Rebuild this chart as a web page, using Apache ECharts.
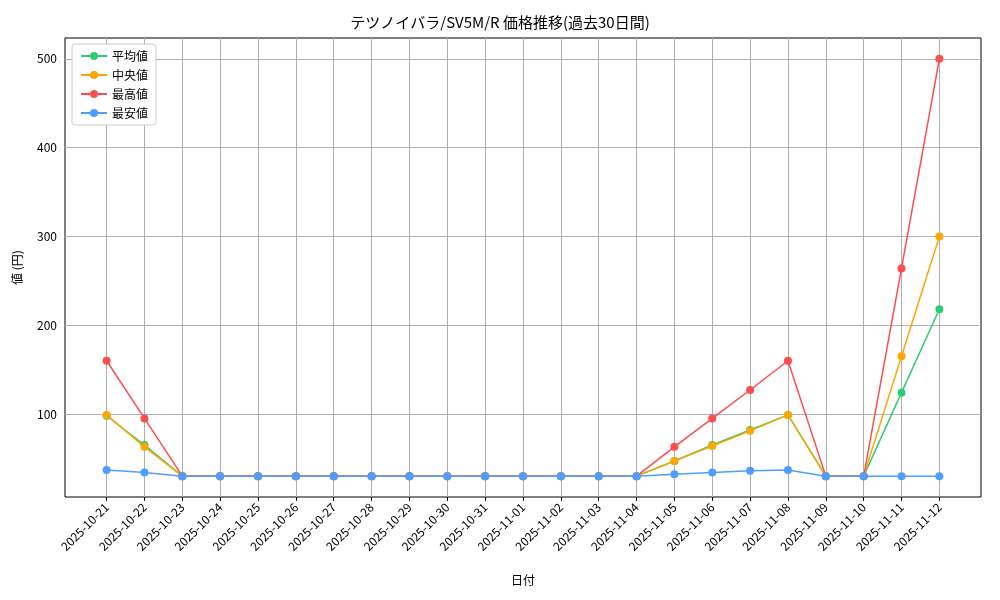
<!DOCTYPE html>
<html><head><meta charset="utf-8">
<script src="https://cdn.jsdelivr.net/npm/echarts@6/dist/echarts.min.js"></script>
<style>html,body{margin:0;padding:0;background:#fff}#c{width:1000px;height:600px}</style>
</head><body><div id="c"></div>
<script>
const dates = ["2025-10-21","2025-10-22","2025-10-23","2025-10-24","2025-10-25","2025-10-26","2025-10-27","2025-10-28","2025-10-29","2025-10-30","2025-10-31","2025-11-01","2025-11-02","2025-11-03","2025-11-04","2025-11-05","2025-11-06","2025-11-07","2025-11-08","2025-11-09","2025-11-10","2025-11-11","2025-11-12"];
const meanVals   = [98,65,30,30,30,30,30,30,30,30,30,30,30,30,30,47,65,82,99,30,30,124,218];
const medianVals = [99,63,30,30,30,30,30,30,30,30,30,30,30,30,30,47,64,81,99,30,30,165,300];
const maxVals    = [160,95,30,30,30,30,30,30,30,30,30,30,30,30,30,63,95,127,160,30,30,264,500];
const minVals    = [37,34,30,30,30,30,30,30,30,30,30,30,30,30,30,32,34,36,37,30,30,30,30];
const yTicks = [100,200,300,400,500];
const F = '"Noto Sans CJK JP", sans-serif';
const idx = dates.map((d,i)=>i);
const gridLine = {color:'#b0b0b0',width:1,type:'solid'};
function mk(name,vals,color,extra){
  return Object.assign({name,type:'line',data:vals.map((v,i)=>[i,v]),
    symbol:'circle',symbolSize:8,itemStyle:{color},lineStyle:{color,width:1.5},z:3},extra||{});
}
const series=[
  mk('平均値',meanVals,'#2ecc71',{markLine:{silent:true,symbol:'none',label:{show:false},z:1,
     lineStyle:gridLine,data:idx.map(i=>({xAxis:i})).concat(yTicks.map(v=>({yAxis:v})))}}),
  mk('中央値',medianVals,'#ffa500'),
  mk('最高値',maxVals,'#ff4d4d'),
  mk('最安値',minVals,'#4d9fff')
];
const pad = (dates.length-1)*0.05;
const chart=echarts.init(document.getElementById('c'));
chart.setOption({
  animation:false,
  textStyle:{fontFamily:F},
  title:{text:'テツノイバラ/SV5M/R 価格推移(過去30日間)',left:'center',top:10,textStyle:{fontFamily:F,fontSize:15,fontWeight:'normal',color:'#000'}},
  legend:{orient:'vertical',left:72,top:44,itemWidth:26,itemHeight:10,itemGap:7,padding:[6,8],
    borderColor:'#ccc',borderWidth:1,borderRadius:3,backgroundColor:'#fff',
    textStyle:{fontFamily:F,fontSize:12,color:'#000'},
    data:['平均値','中央値','最高値','最安値']},
  grid:{left:65,right:19,top:38,bottom:103,containLabel:false,show:true,borderColor:'#000',borderWidth:1},
  xAxis:{type:'value',min:-pad,max:dates.length-1+pad,name:'日付',nameLocation:'middle',nameGap:77,
    nameTextStyle:{fontFamily:F,fontSize:12,color:'#000'},
    axisLine:{show:false},splitLine:{show:false},
    axisTick:{show:true,customValues:idx,length:4,lineStyle:{color:'#000'}},
    axisLabel:{customValues:idx,rotate:45,fontFamily:F,fontSize:12,color:'#000',formatter:v=>dates[Math.round(v)]||''}},
  yAxis:{type:'value',min:6.5,max:523.5,name:'値 (円)',nameLocation:'middle',nameGap:42,
    nameTextStyle:{fontFamily:F,fontSize:12,color:'#000'},
    axisLine:{show:false},splitLine:{show:false},
    axisTick:{show:true,customValues:yTicks,length:4,lineStyle:{color:'#000'}},
    axisLabel:{customValues:yTicks,fontFamily:F,fontSize:12,color:'#000'}},
  series
});
</script></body></html>
